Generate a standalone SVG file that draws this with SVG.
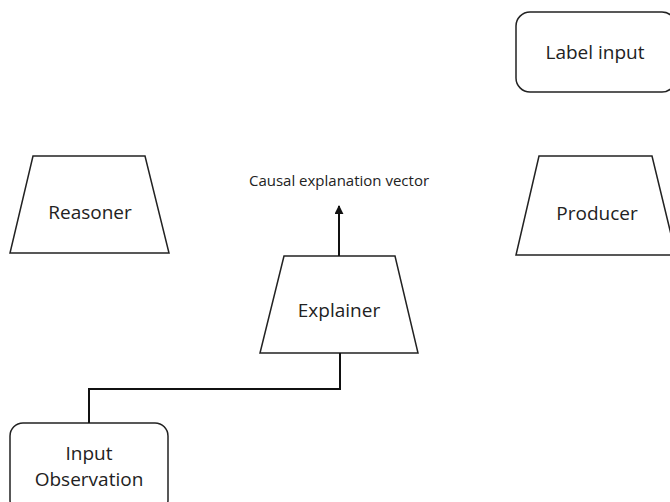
<svg xmlns="http://www.w3.org/2000/svg" width="670" height="502" viewBox="0 0 670 502">
<defs>
<style>
.shape{fill:#fff;stroke:#222;stroke-width:1.5}
.lbl{font-family:"Open Sans","Noto Sans",sans-serif;font-size:19px;fill:#222;text-anchor:middle;dominant-baseline:central}
.small{font-family:"Open Sans","Noto Sans",sans-serif;font-size:15px;fill:#222;text-anchor:middle}
.conn{fill:none;stroke:#111;stroke-width:2}
</style>
<marker id="arr" viewBox="0 0 10 10" refX="9" refY="5" markerWidth="4.5" markerHeight="4.5" orient="auto"><path d="M0,0L10,5L0,10z" fill="#111"/></marker>
</defs>
<rect width="670" height="502" fill="#fff"/>
<g id="label-input"><rect class="shape" x="516" y="12" width="160" height="80" rx="14"/><text class="lbl" x="595" y="52">Label input</text></g>
<g id="reasoner"><polygon class="shape" points="33,156 145,156 169,253 10,253"/><text class="lbl" x="90" y="212">Reasoner</text></g>
<g id="producer"><polygon class="shape" points="539,156 652,156 676,255 516,255"/><text class="lbl" x="597" y="213">Producer</text></g>
<g id="explainer"><polygon class="shape" points="284,256 395,256 418,353 260,353"/><text class="lbl" x="339" y="310">Explainer</text></g>
<g id="input-observation"><rect class="shape" x="10" y="423" width="158" height="90" rx="13"/><text class="lbl" x="89" y="453">Input</text><text class="lbl" x="89" y="479">Observation</text></g>
<text class="small" x="339" y="186">Causal explanation vector</text>
<g id="connectors">
<line class="conn" x1="339" y1="256" x2="339" y2="206" marker-end="url(#arr)"/>
<polyline class="conn" points="340,353 340,389 89,389 89,423"/>
</g>
</svg>
